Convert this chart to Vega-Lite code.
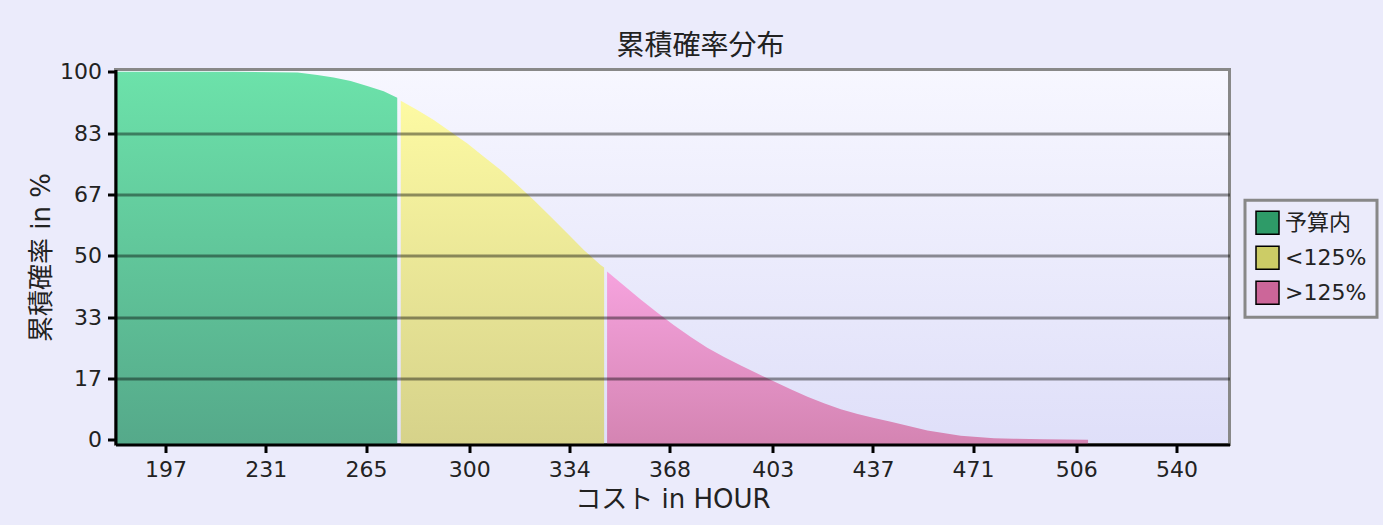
{
  "$schema": "https://vega.github.io/schema/vega-lite/v6.json",
  "autosize": {"type": "none"},
  "width": 1114,
  "height": 375,
  "padding": {"left": 115.5, "top": 69.5, "right": 153.5, "bottom": 80.5},
  "background": "#ebebfb",
  "config": {
    "view": {
      "stroke": "#888888",
      "strokeWidth": 3,
      "fill": {
        "gradient": "linear",
        "x1": 0, "y1": 0, "x2": 0, "y2": 1,
        "stops": [
          {"offset": 0, "color": "#f7f7ff"},
          {"offset": 1, "color": "#dfdff9"}
        ]
      }
    },
    "font": "DejaVu Sans, Noto Sans CJK JP",
    "legend": {"strokeColor": "#888888", "strokeWidth": 3, "padding": 10}
  },
  "title": {
    "text": "累積確率分布",
    "font": "Noto Sans CJK JP",
    "fontSize": 28,
    "fontWeight": "normal",
    "color": "#222222",
    "anchor": "middle",
    "frame": "group",
    "dx": 28,
    "offset": 0
  },
  "data": {
    "values": [
      {"cost": 180, "prob": 100, "band": "予算内"},
      {"cost": 197, "prob": 100, "band": "予算内"},
      {"cost": 220, "prob": 100, "band": "予算内"},
      {"cost": 241.8, "prob": 99.8, "band": "予算内"},
      {"cost": 248.5, "prob": 99.1, "band": "予算内"},
      {"cost": 254, "prob": 98.4, "band": "予算内"},
      {"cost": 259.8, "prob": 97.5, "band": "予算内"},
      {"cost": 265.4, "prob": 96.1, "band": "予算内"},
      {"cost": 271, "prob": 94.7, "band": "予算内"},
      {"cost": 275.6, "prob": 92.9, "band": "予算内"},
      {"cost": 276.8, "prob": 92.1, "band": "<125%"},
      {"cost": 282.4, "prob": 89.6, "band": "<125%"},
      {"cost": 288, "prob": 86.9, "band": "<125%"},
      {"cost": 293.7, "prob": 83.7, "band": "<125%"},
      {"cost": 299.4, "prob": 80.5, "band": "<125%"},
      {"cost": 305, "prob": 76.9, "band": "<125%"},
      {"cost": 310.7, "prob": 73.3, "band": "<125%"},
      {"cost": 316.4, "prob": 69.2, "band": "<125%"},
      {"cost": 322, "prob": 65.1, "band": "<125%"},
      {"cost": 327.7, "prob": 60.6, "band": "<125%"},
      {"cost": 333.3, "prob": 56.1, "band": "<125%"},
      {"cost": 339, "prob": 51.5, "band": "<125%"},
      {"cost": 344.6, "prob": 47.5, "band": "<125%"},
      {"cost": 345.8, "prob": 46.8, "band": "<125%"},
      {"cost": 346.8, "prob": 45.7, "band": ">125%"},
      {"cost": 352.5, "prob": 41.9, "band": ">125%"},
      {"cost": 358.2, "prob": 38.1, "band": ">125%"},
      {"cost": 363.9, "prob": 34.5, "band": ">125%"},
      {"cost": 369.5, "prob": 31.1, "band": ">125%"},
      {"cost": 375.2, "prob": 27.9, "band": ">125%"},
      {"cost": 380.8, "prob": 25.0, "band": ">125%"},
      {"cost": 386.5, "prob": 22.5, "band": ">125%"},
      {"cost": 392.2, "prob": 20.2, "band": ">125%"},
      {"cost": 397.8, "prob": 18.0, "band": ">125%"},
      {"cost": 403.5, "prob": 15.8, "band": ">125%"},
      {"cost": 409.1, "prob": 13.7, "band": ">125%"},
      {"cost": 414.8, "prob": 11.7, "band": ">125%"},
      {"cost": 420.4, "prob": 9.9, "band": ">125%"},
      {"cost": 426.1, "prob": 8.3, "band": ">125%"},
      {"cost": 431.8, "prob": 7.0, "band": ">125%"},
      {"cost": 437.4, "prob": 5.9, "band": ">125%"},
      {"cost": 443.1, "prob": 4.9, "band": ">125%"},
      {"cost": 455.5, "prob": 2.5, "band": ">125%"},
      {"cost": 466.8, "prob": 1.1, "band": ">125%"},
      {"cost": 478.1, "prob": 0.4, "band": ">125%"},
      {"cost": 484.8, "prob": 0.25, "band": ">125%"},
      {"cost": 495, "prob": 0.15, "band": ">125%"},
      {"cost": 510, "prob": 0.0, "band": ">125%"}
    ]
  },
  "encoding": {
    "x": {
      "field": "cost",
      "type": "quantitative",
      "scale": {"domain": [180, 558], "nice": false, "zero": false},
      "axis": {
        "values": [197, 231, 265, 300, 334, 368, 403, 437, 471, 506, 540],
        "title": "コスト in HOUR",
        "titleFont": "DejaVu Sans, Noto Sans CJK JP",
        "titleFontSize": 26,
        "titleFontWeight": "normal",
        "titleColor": "#222222",
        "titlePadding": 6,
        "labelFont": "DejaVu Sans",
        "labelFontSize": 22,
        "labelColor": "#222222",
        "labelPadding": 7,
        "labelFlush": false,
        "labelOverlap": false,
        "tickSize": 8,
        "tickWidth": 3,
        "tickColor": "#000000",
        "domainColor": "#000000",
        "domainWidth": 3,
        "grid": false,
        "zindex": 1
      }
    },
    "y": {
      "field": "prob",
      "type": "quantitative",
      "scale": {"domain": [-1.3, 100.6], "nice": false, "zero": false},
      "axis": {
        "values": [0, 16.667, 33.333, 50, 66.667, 83.333, 100],
        "format": ".0f",
        "title": "累積確率 in %",
        "titleFont": "DejaVu Sans, Noto Sans CJK JP",
        "titleFontSize": 26,
        "titleFontWeight": "normal",
        "titleColor": "#222222",
        "titlePadding": 5,
        "labelFont": "DejaVu Sans",
        "labelFontSize": 22,
        "labelColor": "#222222",
        "labelPadding": 6,
        "labelFlush": false,
        "labelOverlap": false,
        "tickSize": 8,
        "tickWidth": 3,
        "tickColor": "#000000",
        "domainColor": "#000000",
        "domainWidth": 3,
        "grid": true,
        "gridColor": "#000000",
        "gridWidth": 3,
        "gridOpacity": {"condition": {"test": "datum.value > 1 && datum.value < 99", "value": 0.42}, "value": 0},
        "zindex": 1
      }
    }
  },
  "layer": [
    {
      "transform": [{"filter": "datum.band === '予算内'"}],
      "mark": {
        "type": "area",
        "interpolate": "linear",
        "fill": {
          "gradient": "linear",
          "x1": 0, "y1": 0, "x2": 0, "y2": 1,
          "stops": [
            {"offset": 0, "color": "#6ce2aa"},
            {"offset": 1, "color": "#55a98a"}
          ]
        }
      },
      "encoding": {"y2": {"datum": -1.3}}
    },
    {
      "transform": [{"filter": "datum.band === '<125%'"}],
      "mark": {
        "type": "area",
        "interpolate": "linear",
        "fill": {
          "gradient": "linear",
          "x1": 0, "y1": 0, "x2": 0, "y2": 1,
          "stops": [
            {"offset": 0, "color": "#fdfaa3"},
            {"offset": 1, "color": "#d6d28a"}
          ]
        }
      },
      "encoding": {"y2": {"datum": -1.3}}
    },
    {
      "transform": [{"filter": "datum.band === '>125%'"}],
      "mark": {
        "type": "area",
        "interpolate": "linear",
        "fill": {
          "gradient": "linear",
          "x1": 0, "y1": 0, "x2": 0, "y2": 1,
          "stops": [
            {"offset": 0, "color": "#f6a3de"},
            {"offset": 1, "color": "#d484b2"}
          ]
        }
      },
      "encoding": {"y2": {"datum": -1.3}}
    },
    {
      "mark": {"type": "point", "shape": "square", "filled": true, "opacity": 0},
      "encoding": {
        "color": {
          "field": "band",
          "type": "nominal",
          "scale": {"domain": ["予算内", "<125%", ">125%"], "range": ["#2e9b68", "#cccc66", "#cc6699"]},
          "legend": {
            "title": null,
            "orient": "none",
            "legendX": 1129.5,
            "legendY": 130.7,
            "symbolType": "square",
            "symbolSize": 529,
            "symbolStrokeColor": "#000000",
            "symbolStrokeWidth": 1.5,
            "symbolOpacity": 1,
            "labelFont": "DejaVu Sans, Noto Sans CJK JP",
            "labelFontSize": 22,
            "labelColor": "#222222",
            "labelOffset": 5,
            "rowPadding": 6
          }
        }
      }
    }
  ]
}
